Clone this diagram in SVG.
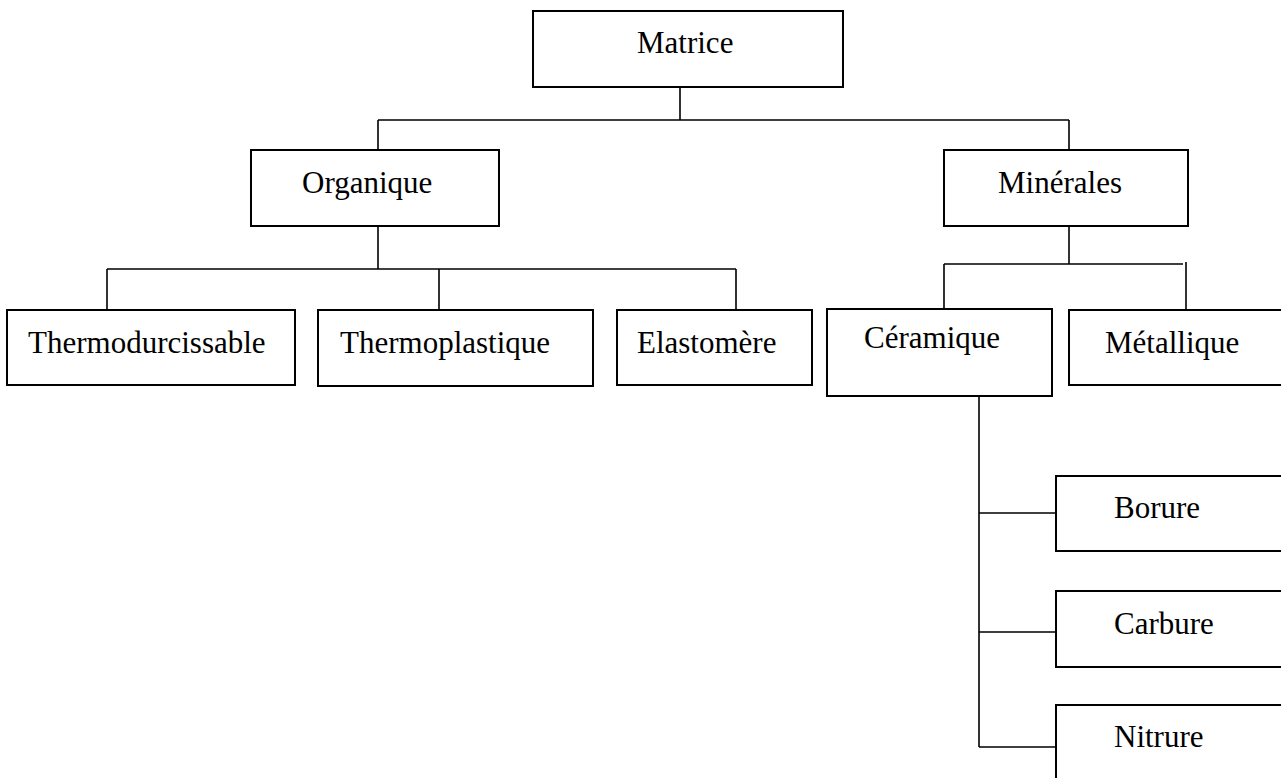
<svg xmlns="http://www.w3.org/2000/svg" width="1281" height="778" viewBox="0 0 1281 778">
  <style>
    .box { fill: #fff; stroke: #000; stroke-width: 2; }
    .link { fill: none; stroke: #000; stroke-width: 1.6; }
    .label { font-family: "Liberation Serif", "Times New Roman", serif; font-size: 31px; fill: #000; }
  </style>
  <rect width="1281" height="778" fill="#fff"/>

  <!-- connectors -->
  <g id="connectors" class="link">
    <!-- Matrice to its two families -->
    <path d="M680 87 V120 M378 120 H1069 M378 120 V150 M1069 120 V150"/>
    <!-- Organique branch -->
    <path d="M378 226 V269 M107 269 H736 M107 269 V310 M439 269 V310 M736 269 V310"/>
    <!-- Minérales branch -->
    <path d="M1069 226 V264 M944 264 H1183 M944 264 V309 M1186 262 V310"/>
    <!-- Céramique branch -->
    <path d="M979 396 V747 M979 513 H1056 M979 632 H1056 M979 747 H1056"/>
  </g>

  <g id="matrice">
    <rect class="box" x="533" y="11" width="310" height="76"/>
    <text class="label" x="637" y="53">Matrice</text>
  </g>
  <g id="organique">
    <rect class="box" x="251" y="150" width="248" height="76"/>
    <text class="label" x="302" y="193">Organique</text>
  </g>
  <g id="minerales">
    <rect class="box" x="944" y="150" width="244" height="76"/>
    <text class="label" x="998" y="193">Minérales</text>
  </g>
  <g id="thermodurcissable">
    <rect class="box" x="7" y="310" width="288" height="75"/>
    <text class="label" x="28" y="353">Thermodurcissable</text>
  </g>
  <g id="thermoplastique">
    <rect class="box" x="318" y="310" width="275" height="76"/>
    <text class="label" x="340" y="353">Thermoplastique</text>
  </g>
  <g id="elastomere">
    <rect class="box" x="617" y="310" width="195" height="75"/>
    <text class="label" x="637" y="353">Elastomère</text>
  </g>
  <g id="ceramique">
    <rect class="box" x="827" y="309" width="225" height="87"/>
    <text class="label" x="864" y="348">Céramique</text>
  </g>
  <g id="metallique">
    <rect class="box" x="1069" y="310" width="230" height="75"/>
    <text class="label" x="1105" y="353">Métallique</text>
  </g>
  <g id="borure">
    <rect class="box" x="1056" y="476" width="240" height="75"/>
    <text class="label" x="1114" y="518">Borure</text>
  </g>
  <g id="carbure">
    <rect class="box" x="1056" y="591" width="240" height="76"/>
    <text class="label" x="1114" y="634">Carbure</text>
  </g>
  <g id="nitrure">
    <rect class="box" x="1056" y="705" width="240" height="90"/>
    <text class="label" x="1114" y="747">Nitrure</text>
  </g>
</svg>
